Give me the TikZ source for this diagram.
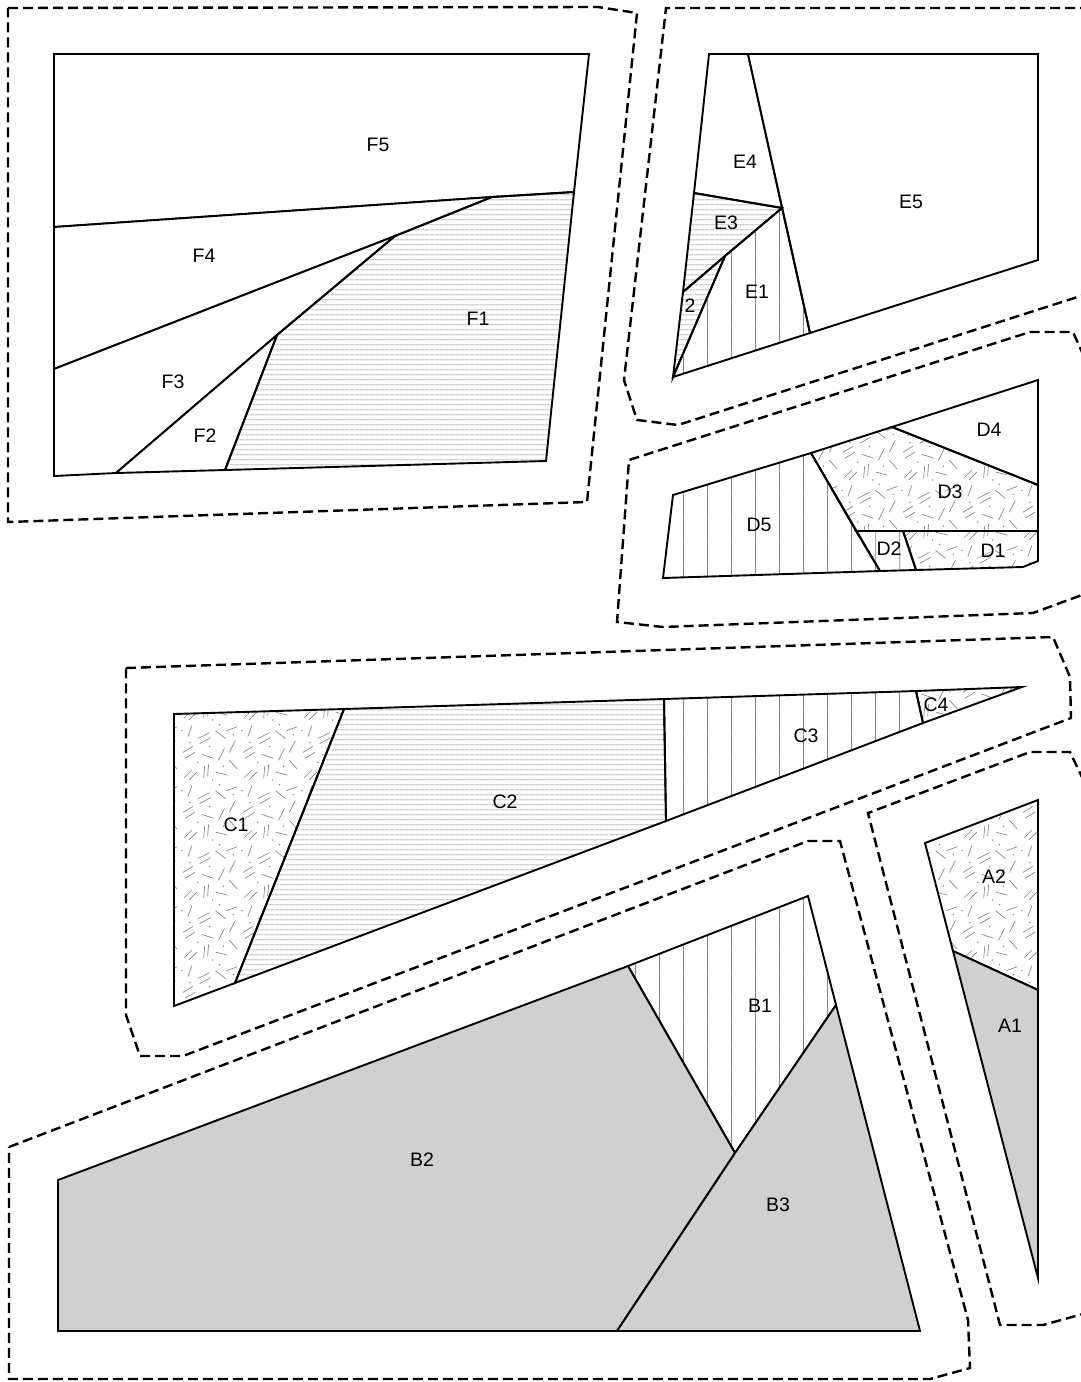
\documentclass[tikz,border=0pt]{standalone}
\usepackage{fontspec}
\setmainfont{Liberation Sans}
\usetikzlibrary{patterns}
\definecolor{piecegray}{RGB}{208,208,208}
\definecolor{hatchgray}{RGB}{130,130,130}

% fill patterns for the pieces
\newcommand{\spk}[4]{\pgfpathmoveto{\pgfqpoint{#1pt}{#2pt}}\pgfpathlineto{\pgfqpoint{#3pt}{#4pt}}}
\newcommand{\spdot}[2]{\pgfpathcircle{\pgfqpoint{#1pt}{#2pt}}{0.8pt}}
\pgfdeclarepatternformonly{hstripes}{\pgfqpoint{0pt}{0pt}}{\pgfqpoint{5pt}{5pt}}{\pgfqpoint{5pt}{5pt}}{
    \pgfsetlinewidth{0.6pt}
    \spk{-0.5}{2.5}{5.5}{2.5}
    \pgfusepath{stroke}
}
\pgfdeclarepatternformonly{vstripes}{\pgfqpoint{0pt}{0pt}}{\pgfqpoint{24pt}{24pt}}{\pgfqpoint{24pt}{24pt}}{
    \pgfsetlinewidth{0.8pt}
    \spk{12}{-0.5}{12}{24.5}
    \pgfusepath{stroke}
}
\pgfdeclarepatternformonly{speckles}{\pgfqpoint{0pt}{0pt}}{\pgfqpoint{60pt}{60pt}}{\pgfqpoint{60pt}{60pt}}{
    \pgfsetlinewidth{0.65pt}
    \spk{4}{4}{12}{12}   \spk{9}{2}{17}{10}   \spk{24}{4}{25}{16}
    \spk{28}{6}{29}{18}  \spk{36}{10}{48}{7}  \spk{50}{22}{58}{13}
    \spk{5}{24}{15}{30}  \spk{3}{30}{13}{36}  \spk{22}{28}{34}{24}
    \spk{39}{22}{45}{34} \spk{50}{30}{56}{42} \spk{8}{46}{12}{57}
    \spk{18}{44}{30}{50} \spk{20}{39}{31}{45} \spk{36}{52}{46}{44}
    \spk{47}{52}{58}{56}
    \pgfusepath{stroke}
    \spdot{18}{20} \spdot{44}{16} \spdot{30}{36} \spdot{54}{48}
    \spdot{10}{40} \spdot{40}{58} \spdot{2}{52}  \spdot{33}{2}
    \pgfusepath{fill}
}

\begin{document}
\begin{tikzpicture}[
    x=1pt, y=-1pt,
    piece/.style={draw=black, line width=1.9pt, line join=miter},
    piecewhite/.style={piece, fill=white},
    piecegrey/.style={piece, fill=piecegray},
    piecehoriz/.style={piece, pattern=hstripes, pattern color=hatchgray},
    pieceverti/.style={piece, pattern=vstripes, pattern color=hatchgray},
    piecespeck/.style={piece, pattern=speckles, pattern color=hatchgray},
    seam/.style={draw=black, line width=2.4pt, dash pattern=on 10pt off 5pt},
    lbl/.style={font=\fontsize{19.5}{21}\selectfont, inner sep=0pt}
]
\fill[white] (0,0) rectangle (1081,1382);
\useasboundingbox (0,0) rectangle (1081,1382);

% Block F
\draw[seam] (8,8) -- (598,7) -- (637,13) -- (587,502) -- (8,522) -- cycle;
\path[piecewhite] (54,54) -- (589,54) -- (574,192) -- (492,197) -- (54,227) -- cycle;
\path[piecewhite] (54,227) -- (492,197) -- (395,236) -- (54,369) -- cycle;
\path[piecewhite] (54,369) -- (395,236) -- (277,335) -- (116,473) -- (54,476) -- cycle;
\path[piecewhite] (116,473) -- (277,335) -- (225,470) -- cycle;
\path[piecehoriz] (492,197) -- (574,192) -- (546,461) -- (225,470) -- (277,335) -- (395,236) -- cycle;
\node[lbl] (F5) at (378,145) {F5};
\node[lbl] (F4) at (204,256) {F4};
\node[lbl] (F3) at (173,382) {F3};
\node[lbl] (F2) at (205,436) {F2};
\node[lbl] (F1) at (478,319) {F1};

% Block E
\draw[seam] (1090,8) -- (666,8) -- (624,380) -- (637,420) -- (678,425) -- (1090,293);
\path[piecewhite] (709,54) -- (748,54) -- (782,208) -- (694,193) -- cycle;
\path[piecewhite] (748,54) -- (1038,54) -- (1038,260) -- (810,333) -- cycle;
\path[piecehoriz] (694,193) -- (782,208) -- (725,256) -- (683,292) -- cycle;
\path[piecehoriz] (683,292) -- (725,256) -- (673,377) -- cycle;
\path[pieceverti] (725,256) -- (782,208) -- (810,333) -- (673,377) -- cycle;
\node[lbl] (E4) at (745,162) {E4};
\node[lbl] (E5) at (911,202) {E5};
\node[lbl] (E3) at (726,223) {E3};
\node[lbl] (E2) at (690,306) {2};
\node[lbl] (E1) at (757,292) {E1};

% Block D
\draw[seam] (1090,370) -- (1073,332) -- (1030,332) -- (629,460) -- (617,622) -- (663,627) -- (1033,613) -- (1090,592);
\path[pieceverti] (673,495) -- (811,453) -- (880,571) -- (663,578) -- cycle;
\path[piecewhite] (892,427) -- (1038,380) -- (1038,485) -- cycle;
\path[piecespeck] (811,453) -- (892,427) -- (1038,485) -- (1038,531) -- (856,531) -- cycle;
\path[pieceverti] (856,531) -- (903,531) -- (916,570) -- (880,571) -- cycle;
\path[piecespeck] (903,531) -- (1038,531) -- (1038,561) -- (1023,567) -- (916,570) -- cycle;
\node[lbl] (D4) at (989,430) {D4};
\node[lbl] (D3) at (950,492) {D3};
\node[lbl] (D5) at (759,525) {D5};
\node[lbl] (D2) at (889,549) {D2};
\node[lbl] (D1) at (993,551) {D1};

% Block C
\draw[seam] (126,668) -- (1053,637) -- (1070,677) -- (1071,718) -- (183,1056) -- (140,1056) -- (126,1015) -- cycle;
\path[piecespeck] (174,714) -- (344,709) -- (235,983) -- (174,1006) -- cycle;
\path[piecehoriz] (344,709) -- (664,699) -- (666,821) -- (235,983) -- cycle;
\path[pieceverti] (664,699) -- (916,691) -- (923,723) -- (666,821) -- cycle;
\path[piecespeck] (916,691) -- (1022,687) -- (923,723) -- cycle;
\node[lbl] (C1) at (236,825) {C1};
\node[lbl] (C2) at (505,802) {C2};
\node[lbl] (C3) at (806,736) {C3};
\node[lbl] (C4) at (936,705) {C4};

% Block B
\draw[seam] (9,1147) -- (808,841) -- (840,841) -- (968,1320) -- (970,1368) -- (930,1379) -- (9,1379) -- cycle;
\path[pieceverti] (628,966) -- (808,896) -- (836,1005) -- (735,1153) -- cycle;
\path[piecegrey] (58,1180) -- (628,966) -- (735,1153) -- (617,1331) -- (58,1331) -- cycle;
\path[piecegrey] (836,1005) -- (920,1331) -- (617,1331) -- (735,1153) -- cycle;
\node[lbl] (B1) at (760,1006) {B1};
\node[lbl] (B2) at (422,1160) {B2};
\node[lbl] (B3) at (778,1205) {B3};

% Block A
\draw[seam] (1090,794) -- (1070,752) -- (1030,752) -- (868,813) -- (1000,1325) -- (1043,1325) -- (1090,1312);
\path[piecespeck] (925,843) -- (1038,800) -- (1038,990) -- (953,951) -- cycle;
\path[piecegrey] (953,951) -- (1038,990) -- (1038,1278) -- cycle;
\node[lbl] (A2) at (994,877) {A2};
\node[lbl] (A1) at (1010,1026) {A1};

\end{tikzpicture}
\end{document}
